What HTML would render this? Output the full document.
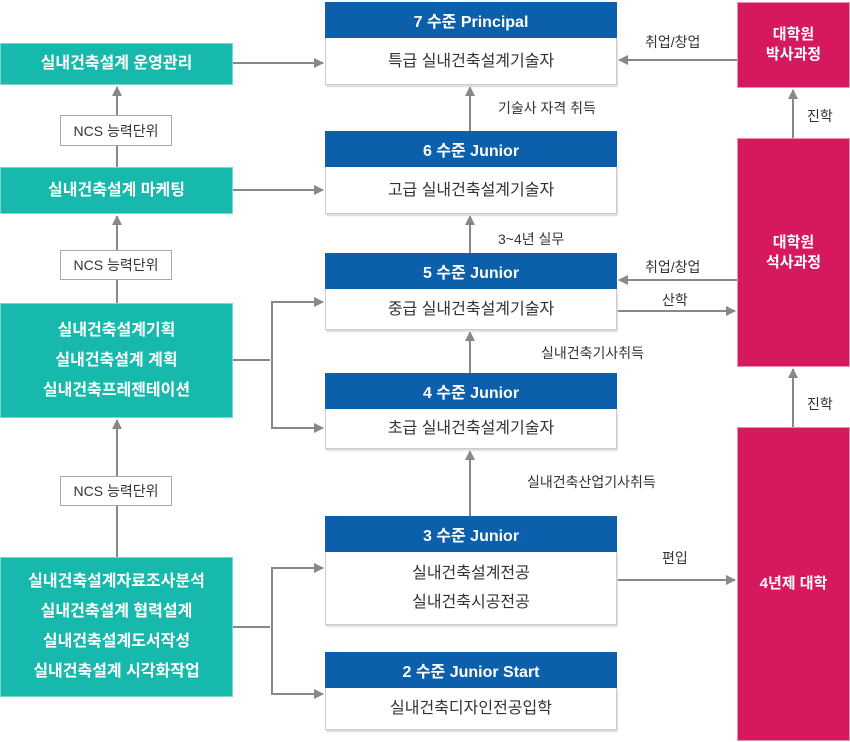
<!DOCTYPE html>
<html><head><meta charset="utf-8"><style>
body{margin:0;width:850px;height:742px;background:#fff;font-family:"Liberation Sans","Noto Sans CJK KR",sans-serif;position:relative;overflow:hidden}
.a{position:absolute;box-sizing:border-box}
.t{background:#16b9ac;color:#fff;font-weight:bold;font-size:16px;display:flex;flex-direction:column;justify-content:center;align-items:center;line-height:30px;border:1px solid #7fd6cf}
.n{background:#fff;border:1px solid #aaa;font-size:14px;color:#333;display:flex;justify-content:center;align-items:center}
.h{background:#0b5fab;color:#fff;font-weight:bold;font-size:16px;display:flex;justify-content:center;align-items:center}
.b{background:#fff;border:1px solid #ccc;border-top:none;box-shadow:1px 2px 1px #ddd;font-size:16px;color:#333;display:flex;flex-direction:column;justify-content:center;align-items:center;line-height:29px}
.p{background:#d6195f;color:#fff;font-weight:bold;font-size:15px;display:flex;flex-direction:column;justify-content:center;align-items:center;line-height:20px;border:1px solid #e890b0}
.l{position:absolute;font-size:14px;color:#333;white-space:nowrap}
</style></head><body>
<svg class="a" style="left:0;top:0" width="850" height="742">
<defs><marker id="m" markerWidth="10" markerHeight="10" refX="9" refY="5" orient="auto" markerUnits="userSpaceOnUse"><path d="M0,0L10,5L0,10z" fill="#888"/></marker></defs>
<g stroke="#888" stroke-width="2" fill="none">
<line x1="233" y1="63" x2="323" y2="63" marker-end="url(#m)"/>
<line x1="233" y1="190" x2="323" y2="190" marker-end="url(#m)"/>
<line x1="233" y1="360" x2="270" y2="360"/>
<polyline points="323,302 272,302 272,428 323,428" marker-end="url(#m)"/>
<line x1="272" y1="302" x2="323" y2="302" marker-end="url(#m)"/>
<line x1="233" y1="627" x2="270" y2="627"/>
<polyline points="323,568 272,568 272,694 323,694" marker-end="url(#m)"/>
<line x1="272" y1="568" x2="323" y2="568" marker-end="url(#m)"/>
<line x1="470" y1="131" x2="470" y2="87" marker-end="url(#m)"/>
<line x1="470" y1="253" x2="470" y2="216" marker-end="url(#m)"/>
<line x1="470" y1="373" x2="470" y2="332" marker-end="url(#m)"/>
<line x1="470" y1="516" x2="470" y2="451" marker-end="url(#m)"/>
<line x1="737" y1="60" x2="619" y2="60" marker-end="url(#m)"/>
<line x1="737" y1="280" x2="619" y2="280" marker-end="url(#m)"/>
<line x1="617" y1="311" x2="735" y2="311" marker-end="url(#m)"/>
<line x1="617" y1="580" x2="735" y2="580" marker-end="url(#m)"/>
<line x1="793" y1="138" x2="793" y2="90" marker-end="url(#m)"/>
<line x1="793" y1="427" x2="793" y2="369" marker-end="url(#m)"/>
<line x1="117" y1="115" x2="117" y2="87" marker-end="url(#m)"/>
<line x1="117" y1="145" x2="117" y2="167"/>
<line x1="117" y1="250" x2="117" y2="216" marker-end="url(#m)"/>
<line x1="117" y1="280" x2="117" y2="303"/>
<line x1="117" y1="476" x2="117" y2="420" marker-end="url(#m)"/>
<line x1="117" y1="505" x2="117" y2="557"/>
</g></svg>
<div class="a t" style="left:0;top:43;width:233px;height:42px;top:43px">실내건축설계 운영관리</div>
<div class="a n" style="left:60px;top:115px;width:112px;height:31px">NCS 능력단위</div>
<div class="a t" style="left:0;top:167px;width:233px;height:47px">실내건축설계 마케팅</div>
<div class="a n" style="left:60px;top:250px;width:112px;height:30px">NCS 능력단위</div>
<div class="a t" style="left:0;top:303px;width:233px;height:115px"><div>실내건축설계기획</div><div>실내건축설계 계획</div><div>실내건축프레젠테이션</div></div>
<div class="a n" style="left:60px;top:476px;width:112px;height:30px">NCS 능력단위</div>
<div class="a t" style="left:0;top:557px;width:233px;height:140px"><div>실내건축설계자료조사분석</div><div>실내건축설계 협력설계</div><div>실내건축설계도서작성</div><div>실내건축설계 시각화작업</div></div>

<div class="a h" style="left:325px;top:2px;width:292px;height:36px">7 수준 Principal</div>
<div class="a b" style="left:325px;top:38px;width:292px;height:47px">특급 실내건축설계기술자</div>
<div class="a h" style="left:325px;top:131px;width:292px;height:36px">6 수준 Junior</div>
<div class="a b" style="left:325px;top:167px;width:292px;height:47px">고급 실내건축설계기술자</div>
<div class="a h" style="left:325px;top:253px;width:292px;height:36px">5 수준 Junior</div>
<div class="a b" style="left:325px;top:289px;width:292px;height:41px">중급 실내건축설계기술자</div>
<div class="a h" style="left:325px;top:373px;width:292px;height:36px">4 수준 Junior</div>
<div class="a b" style="left:325px;top:409px;width:292px;height:40px">초급 실내건축설계기술자</div>
<div class="a h" style="left:325px;top:516px;width:292px;height:36px">3 수준 Junior</div>
<div class="a b" style="left:325px;top:552px;width:292px;height:73px"><div>실내건축설계전공</div><div>실내건축시공전공</div></div>
<div class="a h" style="left:325px;top:652px;width:292px;height:36px">2 수준 Junior Start</div>
<div class="a b" style="left:325px;top:688px;width:292px;height:42px">실내건축디자인전공입학</div>

<div class="a p" style="left:737px;top:2px;width:113px;height:86px"><div>대학원</div><div>박사과정</div></div>
<div class="a p" style="left:737px;top:138px;width:113px;height:229px"><div>대학원</div><div>석사과정</div></div>
<div class="a p" style="left:737px;top:427px;width:113px;height:314px">4년제 대학</div>

<div class="l" style="left:498px;top:98px">기술사 자격 취득</div>
<div class="l" style="left:498px;top:229px">3~4년 실무</div>
<div class="l" style="left:541px;top:343px">실내건축기사취득</div>
<div class="l" style="left:527px;top:472px">실내건축산업기사취득</div>
<div class="l" style="left:645px;top:32px">취업/창업</div>
<div class="l" style="left:645px;top:257px">취업/창업</div>
<div class="l" style="left:662px;top:290px">산학</div>
<div class="l" style="left:662px;top:548px">편입</div>
<div class="l" style="left:807px;top:106px">진학</div>
<div class="l" style="left:807px;top:394px">진학</div>
</body></html>
